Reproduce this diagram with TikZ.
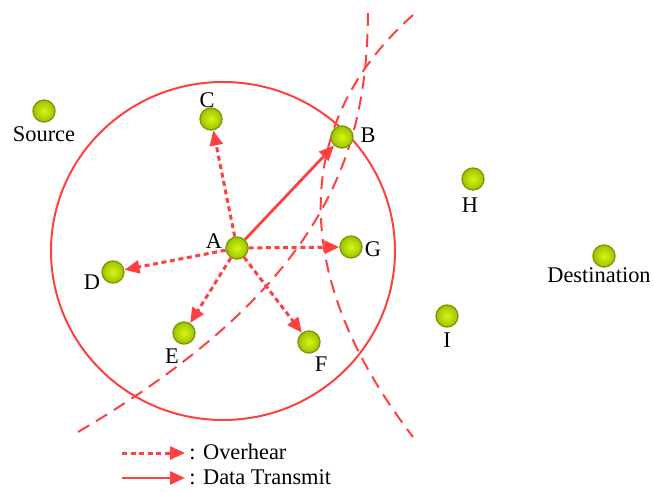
\documentclass[tikz,border=0pt]{standalone}
\usepackage{fontspec}
\setmainfont{Liberation Serif}
\usetikzlibrary{arrows.meta, positioning}

\definecolor{linkred}{RGB}{255,64,64}
\definecolor{limehi}{RGB}{215,245,20}
\definecolor{limelo}{RGB}{155,195,0}
\definecolor{limeedge}{RGB}{125,155,10}

\tikzset{
  sensor/.style={circle, draw=limeedge, line width=0.7pt, inner color=limehi, outer color=limelo, minimum size=11pt, inner sep=0pt},
  lbl/.style={inner sep=0pt, font=\fontsize{11.2}{13}\selectfont},
  overhear/.style={draw=linkred, line width=1.5pt, dash pattern=on 2.5pt off 1.8pt, -{Triangle[length=7.5pt,width=6.5pt]}},
  transmit/.style={draw=linkred, line width=1.4pt, -{Triangle[length=7.5pt,width=6.5pt]}},
  boundary/.style={draw=linkred, line width=1pt, dash pattern=on 6.5pt off 4pt},
}

\begin{document}
\begin{tikzpicture}[x={(0.5pt,0)}, y={(0,-0.5pt)}]
    \useasboundingbox (0,0) rectangle (654,492);
    % radio range of A and the two boundaries
    \draw[linkred, line width=1pt] (223,251) ellipse [x radius=86pt, y radius=84.5pt];
    \draw[boundary] (78,432) .. controls (338,279) and (368,140) .. (368,5);
    \draw[boundary] (413,15) .. controls (295,120) and (285,270) .. (413,437);

    \node[sensor] (src) at (44,111) {};
    \node[sensor] (C) at (211,119) {};
    \node[sensor] (B) at (342,137) {};
    \node[sensor] (H) at (473,179) {};
    \node[sensor] (A) at (237,248) {};
    \node[sensor] (G) at (351,247) {};
    \node[sensor] (dst) at (604,256) {};
    \node[sensor] (D) at (113,272) {};
    \node[sensor] (E) at (184,333) {};
    \node[sensor] (F) at (309,342) {};
    \node[sensor] (I) at (447,316) {};

    \node[lbl] (srclbl) at (44,134) {Source};
    \node[lbl] (Clbl) at (207,100) {C};
    \node[lbl] (Blbl) at (368,135) {B};
    \node[lbl] (Hlbl) at (470,205) {H};
    \node[lbl] (Albl) at (214,241) {A};
    \node[lbl] (Glbl) at (373,249) {G};
    \node[lbl] (dstlbl) at (599,275) {Destination};
    \node[lbl] (Dlbl) at (92,282) {D};
    \node[lbl] (Elbl) at (172,356) {E};
    \node[lbl] (Flbl) at (321,364) {F};
    \node[lbl] (Ilbl) at (447,340) {I};

    \draw[overhear] (A) -- (C);
    \draw[overhear] (A) -- (D);
    \draw[overhear] (A) -- (E);
    \draw[overhear] (A) -- (F);
    \draw[overhear] (A) -- (G);
    \draw[transmit] (A) -- (B);

    % legend
    \coordinate (ohs) at (122,453);
    \coordinate (ohe) at (185,453);
    \coordinate (dts) at (122,478);
    \coordinate (dte) at (185,478);
    \draw[overhear] (ohs) -- (ohe);
    \draw[transmit] (dts) -- (dte);
    \node[lbl, anchor=west] (ohlbl) at (189,452) {: Overhear};
    \node[lbl, anchor=west] (dtlbl) at (189,477) {: Data Transmit};
\end{tikzpicture}
\end{document}
